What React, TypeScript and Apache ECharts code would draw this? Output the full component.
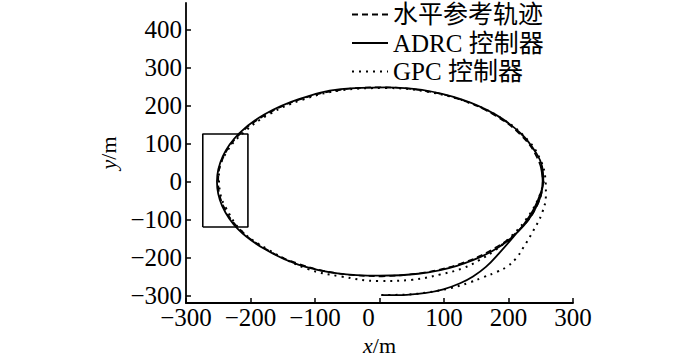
import React, { useEffect, useRef } from "react";
import * as echarts from "echarts";

// Horizontal reference trajectory (dashed)
const refTrack: number[][] = [
  [0, -250], [65, -241], [126, -216], [178, -176], [218, -125], [244, -65], [253, 0],
  [244, 64], [218, 124], [178, 175], [126, 215], [65, 240], [0, 248], [-65, 240],
  [-125, 215], [-177, 175], [-217, 124], [-242, 64], [-250, 0], [-242, -64],
  [-217, -125], [-177, -177], [-125, -217], [-65, -242], [0, -250],
];

// ADRC controller (solid)
const adrcTrack: number[][] = [
  [3, -299], [35, -299], [70, -294], [99, -284], [125, -268], [145, -250], [165, -225],
  [187, -186], [207, -147], [225, -110], [240, -70], [250, -30], [254, 0], [252, 40],
  [244, 72], [220, 125], [180, 176], [127, 216], [66, 241], [10, 248], [-60, 243],
  [-125, 217], [-178, 177], [-218, 126], [-243, 66], [-252, 0], [-244, -64],
  [-219, -126], [-178, -178], [-126, -219], [-65, -242], [0, -248], [60, -243],
  [120, -222], [175, -183], [215, -132], [242, -70], [253, 0], [250, 40],
];

// GPC controller (dotted)
const gpcTrack: number[][] = [
  [3, -299], [40, -298], [75, -292], [110, -281], [140, -266], [161, -252], [182, -238],
  [198, -224], [212, -202], [223, -174], [238, -131], [252, -83], [258, -35], [257, 10],
  [250, 55], [232, 105], [195, 160], [140, 207], [75, 236], [10, 246], [-60, 240],
  [-120, 215], [-170, 178], [-210, 130], [-238, 75], [-249, 20], [-247, -30],
  [-238, -70], [-214, -130], [-172, -180], [-112, -230], [-60, -250], [0, -262],
  [50, -259], [94, -245], [130, -228], [156, -206], [180, -180], [202, -148],
  [225, -105], [245, -50], [255, 0],
];

// Zoom box on the left side
const boxRect: number[][] = [
  [-274, -120], [-204, -120], [-204, 125], [-274, 125], [-274, -120],
];

const xTicks = [-300, -200, -100, 0, 100, 200, 300];
const yTicks = [-300, -200, -100, 0, 100, 200, 300, 400];
const seriesNames = ["水平参考轨迹", "ADRC 控制器", "GPC 控制器"];

const FONT = '"Liberation Serif", "Noto Sans CJK SC", serif';
const FS = 25;

const fmt = (v: number) => (v < 0 ? "\u2212" + Math.abs(v) : String(v));
const fmtX = (v: number) => (v === 0 ? "{z|0}" : fmt(v));

export default function App() {
  const ref = useRef<HTMLDivElement>(null);
  useEffect(() => {
    if (!ref.current) return;
    const chart = echarts.init(ref.current, undefined, { renderer: "svg" });
    const axisLine = { onZero: false, lineStyle: { color: "#000", width: 1.8 } };
    const nameStyle = {
      fontFamily: FONT,
      fontSize: 22,
      color: "#000",
      rich: { i: { fontStyle: "italic", fontFamily: FONT, fontSize: 22, color: "#000" } },
    };
    chart.setOption({
      animation: false,
      backgroundColor: "#fff",
      grid: {
        left: 186,
        right: 127,
        top: 3,
        bottom: 54,
        containLabel: false,
        outerBoundsMode: "none",
      },
      legend: {
        orient: "vertical",
        left: 351,
        top: 2,
        padding: 0,
        itemWidth: 36,
        itemHeight: 14,
        itemGap: 3.5,
        itemStyle: { opacity: 0 },
        textStyle: { fontFamily: FONT, fontSize: FS, color: "#000", lineHeight: 25 },
        data: seriesNames,
      },
      xAxis: {
        type: "value",
        min: -300,
        max: 300,
        interval: 100,
        name: "{i|x}/m",
        nameLocation: "middle",
        nameGap: 25,
        nameTextStyle: nameStyle,
        axisLine,
        axisTick: { inside: true, length: 5, lineStyle: { color: "#000", width: 1.5 } },
        axisLabel: {
          fontFamily: FONT,
          fontSize: FS,
          color: "#000",
          margin: 2,
          formatter: fmtX,
          customValues: xTicks,
          rich: {
            z: { fontFamily: FONT, fontSize: FS, color: "#000", padding: [0, 22, 0, 0] },
          },
        },
        splitLine: { show: false },
      },
      yAxis: {
        type: "value",
        min: -320,
        max: 470,
        name: "{i|y}/m",
        nameLocation: "middle",
        nameGap: 56,
        nameRotate: 90,
        nameTextStyle: nameStyle,
        axisLine,
        axisTick: {
          inside: true,
          length: 5,
          lineStyle: { color: "#000", width: 1.5 },
          customValues: yTicks,
        },
        axisLabel: {
          fontFamily: FONT,
          fontSize: FS,
          color: "#000",
          margin: 4,
          formatter: fmt,
          customValues: yTicks,
        },
        splitLine: { show: false },
      },
      series: [
        {
          name: seriesNames[0],
          type: "line",
          data: refTrack,
          smooth: 0.4,
          symbol: "none",
          lineStyle: { color: "#000", width: 1.6, type: [6, 4] },
          itemStyle: { color: "#000" },
        },
        {
          name: seriesNames[1],
          type: "line",
          data: adrcTrack,
          smooth: 0.4,
          symbol: "none",
          lineStyle: { color: "#000", width: 1.8, type: "solid" },
          itemStyle: { color: "#000" },
        },
        {
          name: seriesNames[2],
          type: "line",
          data: gpcTrack,
          smooth: 0.4,
          symbol: "none",
          lineStyle: { color: "#000", width: 2, type: [2, 5] },
          itemStyle: { color: "#000" },
        },
        {
          name: "box",
          type: "line",
          data: boxRect,
          symbol: "none",
          lineStyle: { color: "#000", width: 1.6 },
          itemStyle: { color: "#000" },
        },
      ],
    });
    return () => chart.dispose();
  }, []);
  return (
    <div
      ref={ref}
      style={{ position: "fixed", left: 0, top: 0, width: 700, height: 357, background: "#fff" }}
    />
  );
}
